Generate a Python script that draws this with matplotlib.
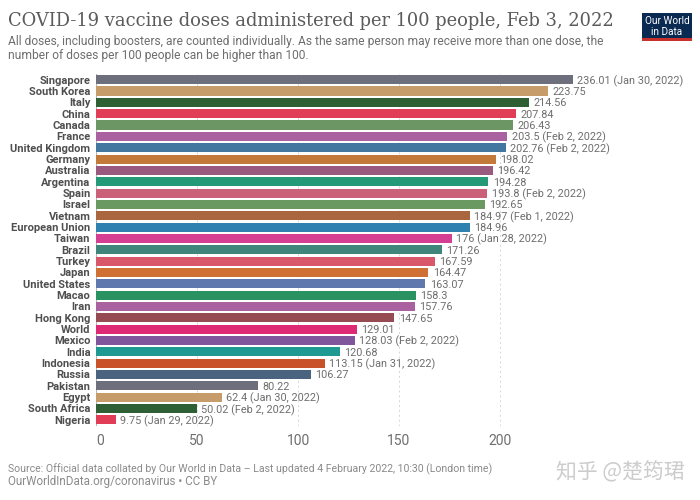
import matplotlib
matplotlib.use("Agg")
import matplotlib.pyplot as plt
from matplotlib.patches import Rectangle

W, H = 700, 500

countries = ["Singapore", "South Korea", "Italy", "China", "Canada", "France", "United Kingdom",
             "Germany", "Australia", "Argentina", "Spain", "Israel", "Vietnam", "European Union",
             "Taiwan", "Brazil", "Turkey", "Japan", "United States", "Macao", "Iran", "Hong Kong",
             "World", "Mexico", "India", "Indonesia", "Russia", "Pakistan", "Egypt", "South Africa",
             "Nigeria"]
values = [236.01, 223.75, 214.56, 207.84, 206.43, 203.5, 202.76, 198.02, 196.42, 194.28, 193.8,
          192.65, 184.97, 184.96, 176, 171.26, 167.59, 164.47, 163.07, 158.3, 157.76, 147.65,
          129.01, 128.03, 120.68, 113.15, 106.27, 80.22, 62.4, 50.02, 9.75]
value_labels = ["236.01 (Jan 30, 2022)", "223.75", "214.56", "207.84", "206.43", "203.5 (Feb 2, 2022)",
                "202.76 (Feb 2, 2022)", "198.02", "196.42", "194.28", "193.8 (Feb 2, 2022)", "192.65",
                "184.97 (Feb 1, 2022)", "184.96", "176 (Jan 28, 2022)", "171.26", "167.59", "164.47",
                "163.07", "158.3", "157.76", "147.65", "129.01", "128.03 (Feb 2, 2022)", "120.68",
                "113.15 (Jan 31, 2022)", "106.27", "80.22", "62.4 (Jan 30, 2022)",
                "50.02 (Feb 2, 2022)", "9.75 (Jan 29, 2022)"]
colors = ["#6d6f7c", "#c69c6b", "#2f5f34", "#e23d57", "#6c9765", "#a9629f", "#44779f", "#c2793a",
          "#9a5a80", "#259a78", "#cb6179", "#6a9a62", "#a9663f", "#2f82b0", "#d43f94", "#3f857b",
          "#d9576a", "#cf7034", "#5f78ae", "#2a9160", "#a9629f", "#964a52", "#de2a75", "#81559b",
          "#1f9a92", "#c9522a", "#4a6480", "#6d6f7c", "#c69c6b", "#2f5f34", "#e23d57"]
ticks = [0, 50, 100, 150, 200]

plt.rcParams["font.family"] = ["Roboto", "DejaVu Sans"]
fig = plt.figure(figsize=(W / 100, H / 100), dpi=100, facecolor="white")

# plot area: x=0 at px 96, 2.02 px per unit; rows centred 79.7 .. 419.3 px
left, right, top, bottom = 96, 600, 74, 425.5
ax = fig.add_axes([left / W, 1 - bottom / H, (right - left) / W, (bottom - top) / H])
ax.set_xlim(0, (right - left) / 2.02)
ax.set_ylim(len(values) - 0.5, -0.5)
ax.patch.set_alpha(0)

rows = list(range(len(values)))
ax.barh(rows, values, height=0.8, color=colors, zorder=2)
for y, v, lab in zip(rows, values, value_labels):
    ax.text(v + 2.2, y, lab, va="center_baseline", ha="left", fontsize=7.8, color="#6e6e6e", zorder=3)

ax.set_yticks(rows, countries)
ax.set_xticks(ticks, [str(t) for t in ticks])
ax.tick_params(axis="both", length=0)
ax.tick_params(axis="y", pad=4, labelsize=8.0, labelcolor="#4f4f4f")
ax.tick_params(axis="x", pad=6, labelsize=10, labelcolor="#6e6e6e")
for t in ax.get_yticklabels():
    t.set_fontweight("bold")
ax.get_xticklabels()[0].set_ha("left")
for s in ax.spines.values():
    s.set_visible(False)
ax.grid(axis="x", color="#d6d6d6", lw=0.7, ls=(0, (2, 3)), zorder=0)
ax.set_axisbelow(True)
ax.axvline(0, color="#b5b5b5", lw=0.8, zorder=1)


def px_text(x, y, s, **kw):
    return fig.text(x / W, 1 - y / H, s, **kw)


px_text(8.5, 21, "COVID-19 vaccine doses administered per 100 people, Feb 3, 2022",
        family="DejaVu Serif", fontsize=12.85, color="#5b5b5b", va="center", ha="left")
px_text(8.5, 41, "All doses, including boosters, are counted individually. As the same person may receive more than one dose, the",
        fontsize=8.63, color="#6e6e6e", va="center", ha="left")
px_text(8.5, 55, "number of doses per 100 people can be higher than 100.",
        fontsize=8.63, color="#6e6e6e", va="center", ha="left")
px_text(8.5, 469.5, "Source: Official data collated by Our World in Data \u2013 Last updated 4 February 2022, 10:30 (London time)",
        fontsize=7.55, color="#8a8a8a", va="center", ha="left")
px_text(8.5, 482, "OurWorldInData.org/coronavirus \u2022 CC BY",
        fontsize=8.4, color="#8a8a8a", va="center", ha="left")

# logo
fig.add_artist(Rectangle((642 / W, 1 - 41 / H), 50 / W, 28 / H, transform=fig.transFigure,
                         facecolor="#0b2a52", edgecolor="none"))
fig.add_artist(Rectangle((642 / W, 1 - 41 / H), 50 / W, 3 / H, transform=fig.transFigure,
                         facecolor="#c8302c", edgecolor="none"))
px_text(667, 21, "Our World", fontsize=7.2, color="white", va="center", ha="center")
px_text(667, 32, "in Data", fontsize=7.2, color="white", va="center", ha="center")

# watermark
px_text(556, 472, "知乎 @楚筠珺", family=["Noto Sans CJK SC", "DejaVu Sans"], fontsize=15,
        color="#cccccc", va="center", ha="left")

fig.savefig("out.png", dpi=100, facecolor="white")
